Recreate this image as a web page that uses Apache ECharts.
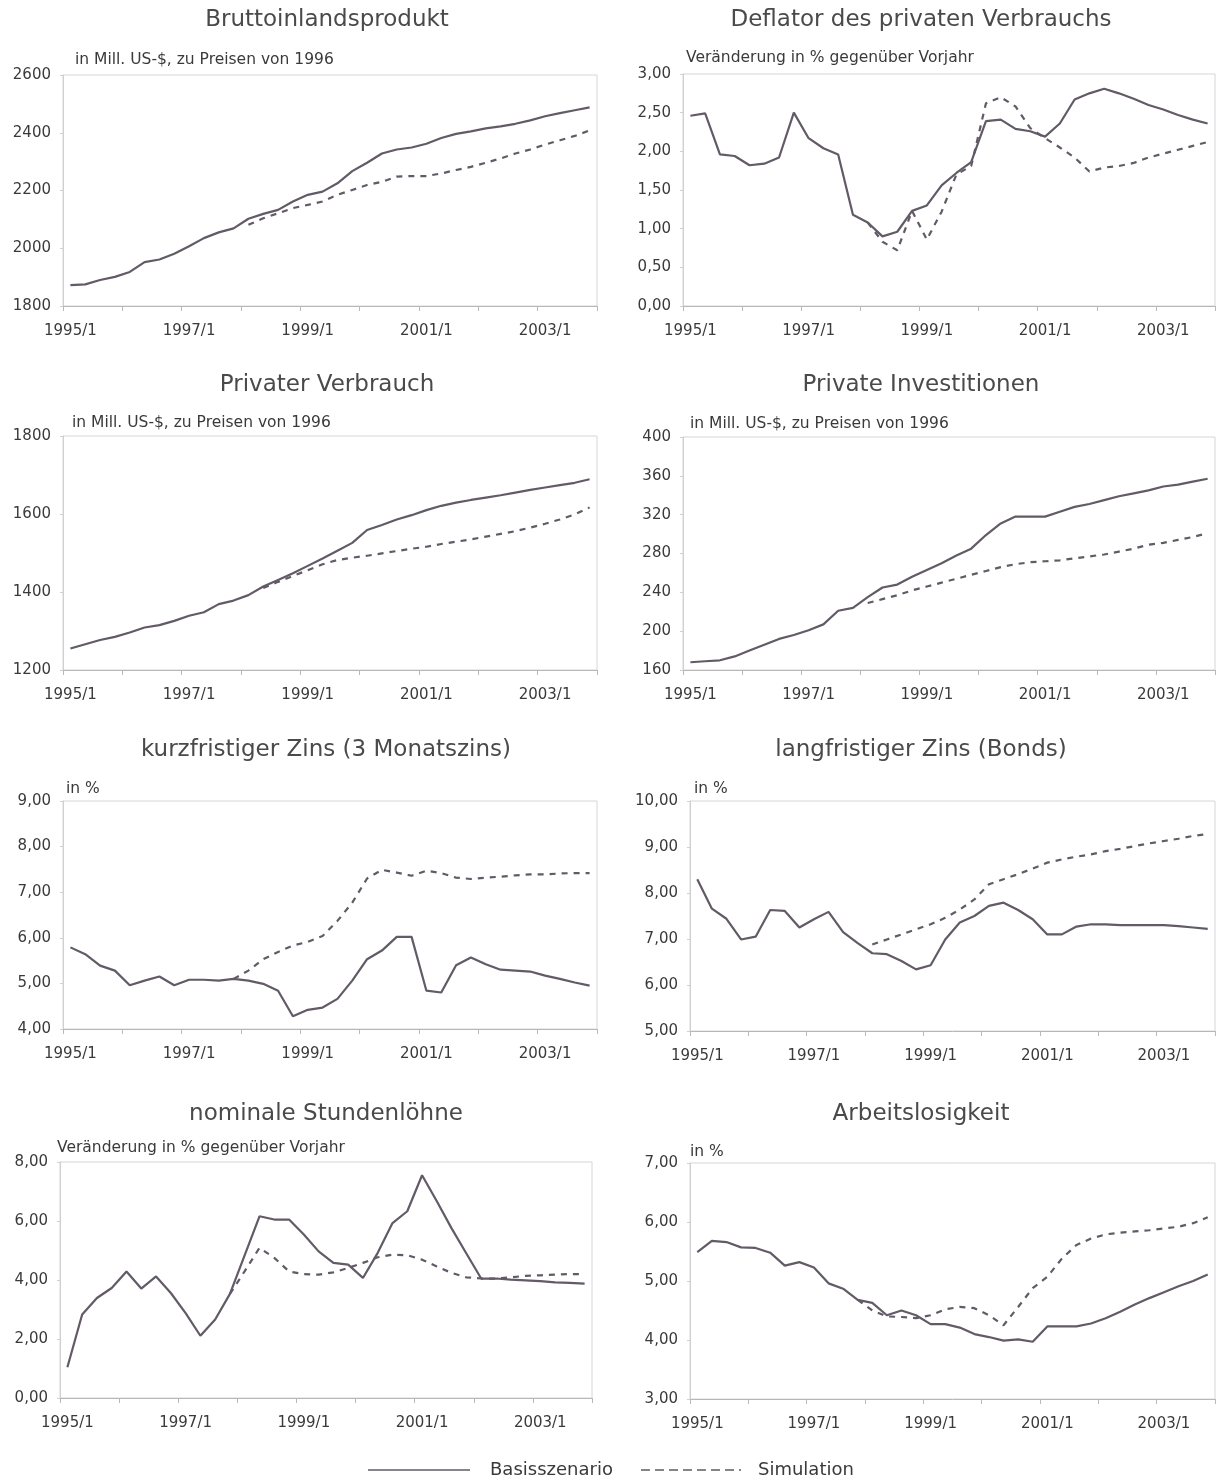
<!DOCTYPE html>
<html>
<head>
<meta charset="utf-8">
<script src="https://cdn.jsdelivr.net/npm/echarts@6/dist/echarts.min.js"></script>
<style>
html,body{margin:0;padding:0;background:#ffffff;}
#chart{width:1230px;height:1480px;}
</style>
</head>
<body>
<div id="chart"></div>
<script>
// ---- categories (quarters 1995/1 .. 2003/4) ----
const quarters = [
 "1995/1","1995/2","1995/3","1995/4","1996/1","1996/2","1996/3","1996/4",
 "1997/1","1997/2","1997/3","1997/4","1998/1","1998/2","1998/3","1998/4",
 "1999/1","1999/2","1999/3","1999/4","2000/1","2000/2","2000/3","2000/4",
 "2001/1","2001/2","2001/3","2001/4","2002/1","2002/2","2002/3","2002/4",
 "2003/1","2003/2","2003/3","2003/4"
];

// ---- Bruttoinlandsprodukt ----
const bipBase = [1872,1875,1890,1901,1918,1952,1961,1981,2007,2035,2055,2069,2102,2119,2133,2162,2185,2196,2225,2267,2296,2328,2342,2349,2362,2382,2396,2405,2415,2422,2431,2443,2457,2468,2478,2488];
const bipSim  = [null,null,null,null,null,null,null,null,null,null,null,null,2081,2104,2121,2139,2150,2162,2185,2202,2219,2230,2248,2250,2250,2259,2271,2282,2296,2311,2328,2342,2359,2374,2389,2408];

// ---- Deflator des privaten Verbrauchs ----
const deflBase = [2.46,2.49,1.96,1.94,1.82,1.84,1.92,2.50,2.17,2.04,1.96,1.18,1.08,0.90,0.96,1.23,1.30,1.56,1.72,1.86,2.39,2.41,2.29,2.26,2.19,2.36,2.67,2.75,2.81,2.75,2.68,2.60,2.54,2.47,2.41,2.36];
const deflSim  = [null,null,null,null,null,null,null,null,null,null,null,null,1.08,0.83,0.72,1.23,0.86,1.22,1.70,1.81,2.62,2.70,2.58,2.30,2.17,2.05,1.92,1.74,1.79,1.81,1.85,1.92,1.97,2.02,2.07,2.12];

// ---- Privater Verbrauch ----
const konsBase = [1255,1266,1277,1285,1296,1309,1315,1326,1339,1348,1369,1378,1392,1414,1431,1448,1467,1486,1506,1526,1559,1572,1586,1597,1610,1621,1629,1636,1642,1648,1655,1662,1668,1674,1680,1689];
const konsSim  = [null,null,null,null,null,null,null,null,null,null,null,null,null,1410,1426,1441,1456,1471,1482,1488,1493,1499,1505,1511,1516,1523,1529,1535,1542,1549,1556,1565,1575,1586,1599,1617];

// ---- Private Investitionen ----
const invBase = [168,169,170,174,180,186,192,196,201,207,221,224,235,245,248,256,263,270,278,285,299,311,318,318,318,323,328,331,335,339,342,345,349,351,354,357];
const invSim  = [null,null,null,null,null,null,null,null,null,null,null,null,229,233,237,242,246,250,254,258,262,266,269,271,272,273,275,277,279,282,285,289,291,294,297,301];

// ---- kurzfristiger Zins ----
const kzBase = [5.79,5.64,5.39,5.28,4.96,5.06,5.15,4.96,5.08,5.08,5.06,5.10,5.06,4.99,4.84,4.28,4.42,4.47,4.66,5.06,5.53,5.72,6.02,6.02,4.84,4.80,5.40,5.57,5.42,5.30,5.28,5.26,5.17,5.10,5.02,4.95];
const kzSim  = [null,null,null,null,null,null,null,null,null,null,null,5.10,5.28,5.53,5.69,5.83,5.91,6.04,6.37,6.77,7.30,7.49,7.43,7.36,7.47,7.42,7.32,7.29,7.32,7.34,7.37,7.39,7.39,7.41,7.42,7.42];

// ---- langfristiger Zins ----
const lzBase = [8.30,7.66,7.44,6.99,7.05,7.63,7.61,7.25,7.43,7.59,7.15,6.91,6.69,6.67,6.52,6.34,6.43,6.99,7.36,7.50,7.72,7.79,7.63,7.43,7.10,7.10,7.27,7.32,7.32,7.30,7.30,7.30,7.30,7.28,7.25,7.22];
const lzSim  = [null,null,null,null,null,null,null,null,null,null,null,null,6.88,6.99,7.10,7.21,7.32,7.46,7.64,7.86,8.19,8.30,8.41,8.53,8.66,8.73,8.79,8.84,8.91,8.96,9.02,9.08,9.13,9.18,9.24,9.28];

// ---- nominale Stundenlöhne ----
const lohnBase = [1.04,2.83,3.39,3.73,4.29,3.71,4.12,3.56,2.88,2.11,2.66,3.53,4.84,6.16,6.05,6.05,5.54,4.97,4.58,4.52,4.07,4.92,5.93,6.33,7.55,6.67,5.75,4.90,4.05,4.05,4.01,3.99,3.96,3.92,3.90,3.88];
const lohnSim  = [null,null,null,null,null,null,null,null,null,null,null,3.53,4.30,5.09,4.75,4.29,4.20,4.18,4.26,4.41,4.58,4.77,4.86,4.84,4.69,4.46,4.24,4.09,4.05,4.05,4.09,4.14,4.16,4.18,4.20,4.20];

// ---- Arbeitslosigkeit ----
const alBase = [5.49,5.68,5.66,5.57,5.56,5.48,5.26,5.32,5.23,4.96,4.87,4.68,4.63,4.42,4.50,4.42,4.27,4.27,4.21,4.10,4.05,3.99,4.01,3.97,4.23,4.23,4.23,4.28,4.37,4.48,4.60,4.71,4.81,4.91,5.00,5.11];
const alSim  = [null,null,null,null,null,null,null,null,null,null,null,4.68,4.50,4.40,4.39,4.37,4.42,4.52,4.56,4.54,4.42,4.25,4.56,4.88,5.07,5.38,5.61,5.72,5.79,5.82,5.84,5.86,5.89,5.92,5.98,6.08];

// ---- texts ----
const titles = ["Bruttoinlandsprodukt","Deflator des privaten Verbrauchs","Privater Verbrauch","Private Investitionen",
  "kurzfristiger Zins (3 Monatszins)","langfristiger Zins (Bonds)","nominale Stundenlöhne","Arbeitslosigkeit"];
const subtitles = ["in Mill. US-$, zu Preisen von 1996","Veränderung in % gegenüber Vorjahr","in Mill. US-$, zu Preisen von 1996","in Mill. US-$, zu Preisen von 1996",
  "in %","in %","Veränderung in % gegenüber Vorjahr","in %"];
const seriesNames = ["Basisszenario","Simulation"];

// ---- axis scales ----
const yMin = [1800,0,1200,160,4,5,0,3];
const yMax = [2600,3,1800,400,9,10,8,7];
const yStep = [200,0.5,200,40,1,1,2,1];
const yDec = [0,2,0,0,2,2,2,2];

const baseData = [bipBase,deflBase,konsBase,invBase,kzBase,lzBase,lohnBase,alBase];
const simData = [bipSim,deflSim,konsSim,invSim,kzSim,lzSim,lohnSim,alSim];

// ---- layout ----
const grids = [
  {left:63, top:75, width:534, height:231},
  {left:683, top:74, width:532, height:232},
  {left:63, top:436, width:534, height:234},
  {left:683, top:437, width:532, height:233},
  {left:63, top:801, width:534, height:228},
  {left:690, top:801, width:525, height:230},
  {left:60, top:1162, width:532, height:236},
  {left:690, top:1163, width:525, height:236}
];
const titlePos = [[327,20],[921,20],[327,385],[921,385],[326,750],[921,750],[326,1114],[921,1114]];
const subPos = [[75,60],[686,58],[72,423],[690,424],[66,789],[694,789],[57,1148],[690,1152]];

const FONT = "DejaVu Sans";
const LINE = "#625a66";
const TXT = "#3a3a3a";

const option = {
  backgroundColor: "#ffffff",
  animation: false,
  grid: [], xAxis: [], yAxis: [], series: [], graphic: []
};

for (let k = 0; k < 8; k++) {
  option.grid.push(Object.assign({show: true, borderColor: "#d6d6d6", borderWidth: 1, backgroundColor: "transparent"}, grids[k]));
  option.xAxis.push({
    type: "category", gridIndex: k, data: quarters, boundaryGap: true,
    axisLine: {show: true, lineStyle: {color: "#b8b8b8", width: 1}},
    axisTick: {show: true, interval: 3, length: 5, lineStyle: {color: "#b8b8b8"}},
    axisLabel: {interval: 7, margin: 18, fontFamily: FONT, fontSize: 15, color: TXT},
    splitLine: {show: false}
  });
  const dec = yDec[k];
  option.yAxis.push({
    type: "value", gridIndex: k, min: yMin[k], max: yMax[k], interval: yStep[k],
    axisLine: {show: true, lineStyle: {color: "#d0d0d0"}},
    axisTick: {show: true, length: 3, lineStyle: {color: "#d0d0d0"}},
    splitLine: {show: false},
    axisLabel: {margin: 12, fontFamily: FONT, fontSize: 15, color: TXT,
      formatter: function (v) { return dec ? v.toFixed(dec).replace(".", ",") : String(v); }}
  });
  option.series.push({
    name: seriesNames[0], type: "line", xAxisIndex: k, yAxisIndex: k, data: baseData[k],
    symbol: "none", showSymbol: false, connectNulls: false,
    lineStyle: {color: LINE, width: 2.2}, itemStyle: {color: LINE}, z: 3
  });
  option.series.push({
    name: seriesNames[1], type: "line", xAxisIndex: k, yAxisIndex: k, data: simData[k],
    symbol: "none", showSymbol: false, connectNulls: false,
    lineStyle: {color: LINE, width: 2.2, type: [6, 6]}, itemStyle: {color: LINE}, z: 2
  });
  option.graphic.push({
    type: "text", x: titlePos[k][0], y: titlePos[k][1], silent: true,
    style: {text: titles[k], fill: "#4a4a4a", font: "23px '" + FONT + "'", textAlign: "center", textVerticalAlign: "middle"}
  });
  option.graphic.push({
    type: "text", x: subPos[k][0], y: subPos[k][1], silent: true,
    style: {text: subtitles[k], fill: TXT, font: "15.5px '" + FONT + "'", textAlign: "left", textVerticalAlign: "middle"}
  });
}

// ---- legend (key) ----
option.graphic.push(
  {type: "line", silent: true, shape: {x1: 368, y1: 1470, x2: 470, y2: 1470},
   style: {stroke: LINE, lineWidth: 1.6}},
  {type: "text", x: 490, y: 1470, silent: true,
   style: {text: seriesNames[0], fill: TXT, font: "18px '" + FONT + "'", textAlign: "left", textVerticalAlign: "middle"}},
  {type: "line", silent: true, shape: {x1: 641, y1: 1470, x2: 741, y2: 1470},
   style: {stroke: LINE, lineWidth: 1.6, lineDash: [9, 5]}},
  {type: "text", x: 758, y: 1470, silent: true,
   style: {text: seriesNames[1], fill: TXT, font: "18px '" + FONT + "'", textAlign: "left", textVerticalAlign: "middle"}}
);

const chart = echarts.init(document.getElementById("chart"), null, {renderer: "canvas"});
chart.setOption(option);
</script>
</body>
</html>
